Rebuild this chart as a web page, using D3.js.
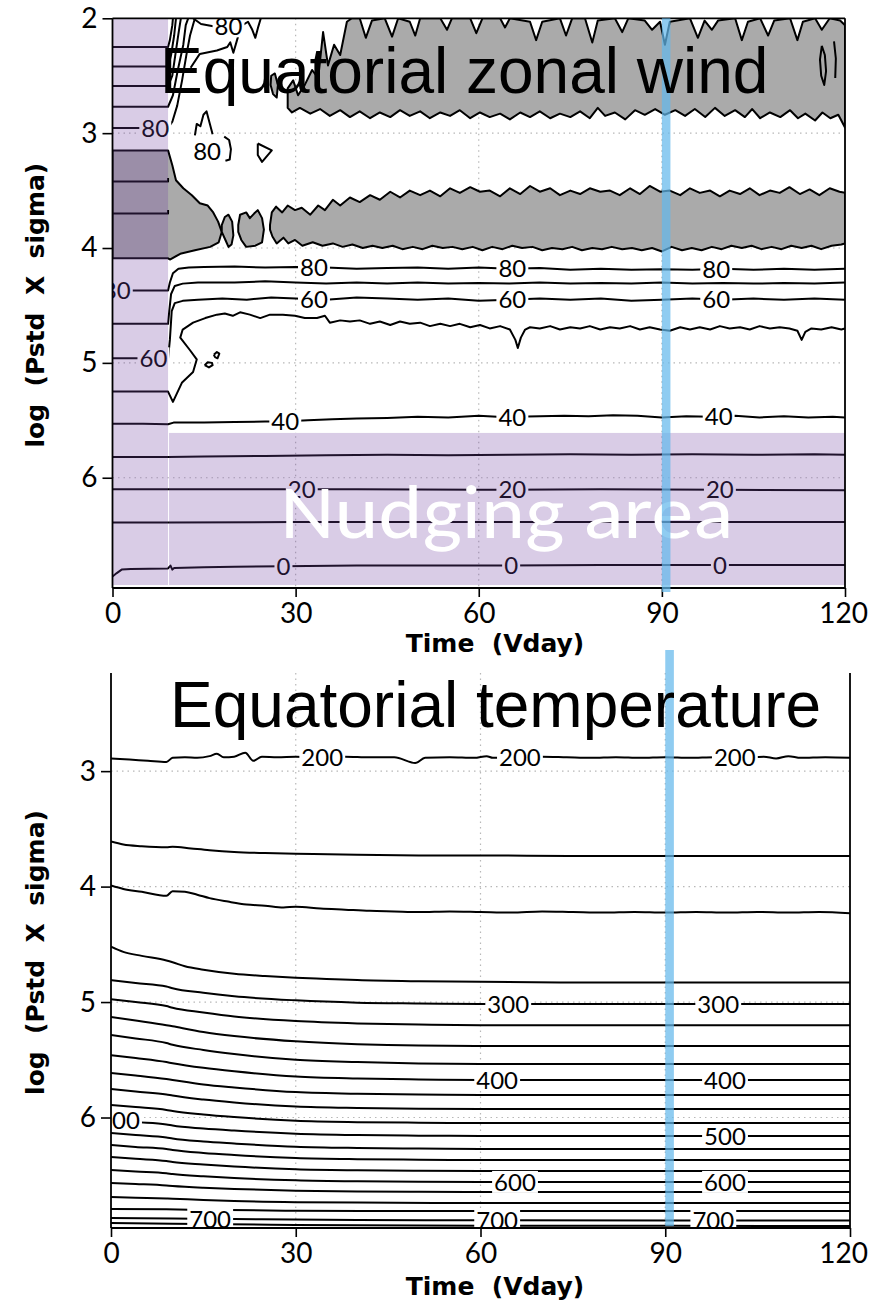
<!DOCTYPE html>
<html><head><meta charset="utf-8">
<script src="https://cdn.jsdelivr.net/npm/d3@7"></script>
<style>body{margin:0;background:#fff}svg{display:block}</style>
</head><body>
<svg id="c" width="869" height="1305"></svg>
<script>
// ---------------- DATA ----------------
const timeTicks = [0, 30, 60, 90, 120];
const windLevelTicks = [2, 3, 4, 5, 6];
const tempLevelTicks = [3, 4, 5, 6];
const timeGrid = [30, 60, 90];
const windLevelGrid = [3, 4, 5, 6];
const tempLevelGrid = [3, 4, 5, 6];
const nudgeStripEnd = 9.1;          // day
const nudgeAreaTop = 5.61;          // level
const markerDays = [90, 91.4];

// Zonal wind: shaded regions
const windUpperShadeTop = [[28.7,2.61],[29.6,2.54],[30.4,2.67],[31.5,2.58],[32.7,2.45],[33.7,2.52],[34.5,2.12],[35.3,2.41],[36.3,2.23],[37.3,2.32],[38.4,2.03],[39.2,2.0],[40.5,2.0],[41.5,2.17],[42.5,2.02],[44.6,2.0],[45.8,2.16],[46.8,2.0],[48.7,2.03],[49.6,2.15],[50.4,2.0],[53.7,2.0],[54.8,2.1],[55.6,2.0],[58.6,2.0],[59.6,2.13],[60.6,2.0],[63.5,2.0],[64.3,2.08],[65.1,2.0],[68.4,2.03],[69.4,2.19],[70.4,2.03],[73.3,2.0],[74.3,2.15],[75.3,2.0],[77.4,2.0],[78.6,2.21],[79.5,2.02],[82.3,2.0],[83.5,2.12],[84.5,2.0],[87.2,2.02],[88.4,2.1],[89.7,2.03],[90.5,2.23],[91.3,2.03],[94.6,2.0],[95.9,2.17],[97.0,2.02],[98.2,2.1],[99.2,2.02],[102.0,2.0],[103.1,2.19],[104.1,2.03],[106.1,2.0],[107.4,2.15],[108.4,2.02],[111.0,2.0],[112.2,2.19],[113.1,2.03],[115.1,2.0],[116.2,2.1],[117.5,2.0],[119.2,2.02],[120,2.06]];
const windUpperShadeBottom = [[28.7,2.78],[29.4,2.82],[30.7,2.78],[32.4,2.83],[34.0,2.79],[35.6,2.85],[37.3,2.80],[38.9,2.86],[40.5,2.81],[42.2,2.87],[43.8,2.82],[45.5,2.86],[47.1,2.80],[48.7,2.85],[50.4,2.81],[52.0,2.87],[53.7,2.82],[55.3,2.85],[56.9,2.80],[58.6,2.87],[60.2,2.82],[61.8,2.86],[63.5,2.83],[65.1,2.88],[66.8,2.82],[68.4,2.86],[70.0,2.81],[71.7,2.87],[73.3,2.83],[75.0,2.86],[76.6,2.81],[78.2,2.87],[79.5,2.78],[80.7,2.85],[82.3,2.82],[84.0,2.88],[85.6,2.80],[87.2,2.84],[88.9,2.79],[90.5,2.84],[92.2,2.80],[93.8,2.85],[95.4,2.79],[97.1,2.86],[98.7,2.78],[100.3,2.85],[102.0,2.80],[103.6,2.86],[104.8,2.79],[106.1,2.87],[107.7,2.82],[109.4,2.86],[111.0,2.80],[112.3,2.87],[113.5,2.83],[115.1,2.89],[116.3,2.82],[117.6,2.87],[118.9,2.84],[120,2.95]];
const windLeftShadeTop = [[0,3.15],[9.1,3.15],[9.8,3.28],[10.4,3.41],[11.6,3.48],[13.0,3.54],[14.3,3.61],[15.6,3.63],[16.5,3.69],[17.3,3.77],[17.9,3.86]];
const windLeftShadeBottom = [[0,4.09],[9.1,4.09],[9.4,4.10],[11.1,4.05],[13.5,4.02],[16.0,3.99],[17.4,3.95],[17.9,3.86]];
const windBlob1 = [[17.9,3.80],[18.4,3.73],[19.0,3.71],[19.6,3.77],[19.8,3.89],[19.5,3.97],[19.0,3.99],[18.5,3.93],[17.9,3.86]];
const windBlob2 = [[20.6,3.80],[20.9,3.71],[21.9,3.69],[22.5,3.74],[23.2,3.70],[23.8,3.67],[24.5,3.74],[24.8,3.84],[24.5,3.95],[23.4,3.98],[21.9,3.99],[21.1,3.93],[20.6,3.86]];
const windLowerShadeTop = [[25.8,3.80],[26.1,3.69],[26.8,3.64],[27.8,3.69],[28.7,3.63],[29.9,3.67],[31.0,3.65],[32.4,3.71],[33.7,3.63],[34.8,3.67],[36.1,3.58],[37.3,3.63],[38.9,3.56],[40.5,3.60],[42.2,3.54],[43.8,3.58],[45.5,3.51],[47.1,3.56],[48.7,3.50],[50.4,3.54],[52.0,3.50],[53.7,3.55],[55.3,3.48],[56.9,3.52],[58.6,3.47],[60.2,3.51],[61.8,3.50],[63.5,3.55],[65.1,3.48],[66.8,3.53],[68.4,3.46],[70.0,3.51],[71.7,3.48],[73.3,3.54],[75.0,3.50],[76.6,3.53],[78.2,3.48],[79.9,3.51],[81.5,3.50],[83.1,3.54],[84.8,3.48],[86.4,3.53],[88.0,3.46],[89.7,3.51],[91.3,3.50],[93.0,3.54],[94.6,3.48],[96.2,3.52],[97.9,3.50],[99.5,3.55],[101.1,3.50],[102.8,3.53],[104.4,3.48],[106.0,3.54],[107.7,3.50],[109.3,3.52],[110.9,3.47],[112.6,3.53],[114.2,3.49],[115.8,3.54],[117.5,3.48],[119.1,3.51],[120,3.52]];
const windLowerShadeBottom = [[25.8,3.84],[26.2,3.90],[26.9,3.96],[28.0,3.91],[28.8,3.96],[29.9,3.93],[31.1,3.98],[32.8,3.95],[34.4,3.98],[36.1,3.96],[37.7,3.99],[39.3,3.97],[41.0,4.00],[42.6,3.98],[44.2,4.00],[45.9,3.98],[47.5,4.01],[49.2,3.99],[50.8,4.01],[52.4,3.98],[54.1,4.00],[55.7,3.99],[57.3,4.01],[59.0,3.99],[60.6,4.02],[62.2,3.99],[63.9,4.01],[65.5,3.98],[67.1,4.00],[68.8,3.99],[70.4,4.02],[72.0,4.00],[73.7,4.01],[75.3,3.99],[76.9,4.02],[78.6,4.00],[80.2,4.01],[81.8,3.99],[83.5,4.01],[85.1,4.00],[86.7,4.02],[88.4,4.00],[90.0,4.03],[91.6,3.99],[93.3,4.02],[94.9,4.00],[96.5,4.02],[98.2,3.99],[99.8,4.01],[101.4,3.98],[103.1,4.00],[104.7,3.98],[106.3,4.01],[108.0,3.99],[109.6,4.01],[111.2,3.98],[112.9,4.00],[114.5,3.98],[116.1,4.01],[117.8,3.98],[119.4,3.97],[120,3.96]];
const windSmallShade = [[26.0,2.50],[26.6,2.48],[27.1,2.58],[26.9,2.69],[26.3,2.66],[25.9,2.58],[26.0,2.50]];

// Zonal wind: contour lines
const windFan1 = [[0,2.25],[9.1,2.25],[9.4,2.19],[9.8,2.06],[9.9,2.0]];
const windFan2 = [[0,2.42],[9.1,2.42],[9.6,2.32],[10.1,2.15],[10.4,2.0]];
const windFan3 = [[0,2.59],[9.1,2.59],[9.8,2.50],[10.4,2.28],[10.9,2.10],[11.2,2.0]];
const windFan4 = [[0,2.77],[9.1,2.77],[9.9,2.67],[10.7,2.45],[11.6,2.23],[12.0,2.06],[12.4,2.0]];
const windFan5 = [[0,2.955],[9.1,2.955],[9.8,2.90],[10.6,2.76],[11.4,2.54],[12.1,2.32],[12.7,2.15],[13.5,2.0]];
const windTopA = [[13.2,2.0],[14.5,2.05],[16.5,2.07],[19.0,2.07],[21.3,2.06],[22.2,2.03],[22.9,2.10],[23.4,2.17],[23.9,2.07],[24.3,2.0]];
const windTopB = [[12.8,2.43],[14.3,2.31],[17.1,2.28],[18.8,2.25],[19.3,2.21],[19.8,2.30],[20.4,2.19],[20.9,2.10],[21.4,2.0]];
const windTopC = [[13.5,3.02],[13.8,2.92],[14.4,2.94],[14.9,2.84],[15.4,2.81],[15.9,2.91],[16.4,3.01]];
const windTopD = [[18.3,3.03],[19.1,3.06],[19.4,3.14],[19.2,3.23],[18.5,3.24]];
const windTriangle = [[23.8,3.09],[26.1,3.15],[24.5,3.25],[23.8,3.19],[23.8,3.09]];
const windIsland1 = [[116.2,2.24],[116.7,2.32],[116.9,2.46],[116.6,2.58],[116.1,2.50],[115.9,2.36],[116.2,2.24]];
const windIsland2 = [[118.2,2.20],[118.5,2.35],[118.4,2.52]];
const windStripIn1 = [[0,3.42],[9.1,3.42],[9.1,3.39]];
const windStripIn2 = [[0,3.70],[9.1,3.70],[9.1,3.67]];
const wind80 = [[0,4.37],[9.1,4.37],[9.4,4.30],[9.9,4.22],[10.8,4.18],[12.5,4.17],[15,4.165],[20,4.16],[25,4.17],[30,4.165],[35,4.17],[40,4.18],[45,4.175],[50,4.17],[55,4.18],[60,4.17],[65,4.18],[70,4.175],[75,4.19],[80,4.18],[85,4.19],[90,4.185],[95,4.19],[100,4.18],[105,4.19],[110,4.18],[115,4.19],[120,4.18]];
const wind70 = [[0,4.66],[9.1,4.66],[9.3,4.55],[9.6,4.40],[10.2,4.33],[11.5,4.31],[14,4.30],[20,4.30],[25,4.29],[30,4.30],[35,4.31],[40,4.30],[45,4.31],[50,4.30],[55,4.31],[60,4.305],[65,4.31],[70,4.30],[75,4.31],[80,4.305],[85,4.31],[90,4.30],[95,4.31],[100,4.305],[105,4.31],[110,4.305],[115,4.31],[120,4.30]];
const wind60 = [[0,4.96],[9.1,4.96],[9.4,4.80],[9.7,4.55],[10.2,4.48],[11.5,4.46],[14,4.45],[18,4.44],[22,4.45],[26,4.43],[30,4.44],[35,4.45],[40,4.43],[45,4.44],[50,4.45],[55,4.44],[60,4.46],[65,4.45],[70,4.44],[75,4.45],[80,4.44],[85,4.46],[90,4.45],[95,4.44],[100,4.45],[105,4.44],[110,4.45],[115,4.44],[120,4.45]];
const wind50 = [[0,5.25],[4,5.25],[9.1,5.25],[9.9,5.34],[11.4,5.17],[13.2,5.08],[13.8,4.97],[12.7,4.89],[11.1,4.78],[11.5,4.71],[13.2,4.65],[15.2,4.61],[17.1,4.58],[18.4,4.57],[19.7,4.59],[20.9,4.56],[22.5,4.58],[24.2,4.61],[25.8,4.58],[27.9,4.58],[29.9,4.59],[31.5,4.61],[33.5,4.61],[34.8,4.59],[35.6,4.65],[37.3,4.63],[38.9,4.64],[40.5,4.63],[42.2,4.66],[43.8,4.64],[45.5,4.67],[47.1,4.64],[48.7,4.66],[50.4,4.65],[52.0,4.68],[53.7,4.66],[55.3,4.68],[56.9,4.66],[58.6,4.69],[60.2,4.67],[61.8,4.70],[63.5,4.68],[65.1,4.71],[66.0,4.80],[66.4,4.87],[66.9,4.78],[67.6,4.71],[68.4,4.69],[70.0,4.70],[71.7,4.68],[73.3,4.71],[75.0,4.69],[76.6,4.70],[78.2,4.68],[79.9,4.71],[81.5,4.69],[83.1,4.70],[84.8,4.68],[86.4,4.71],[88.0,4.69],[89.7,4.71],[91.3,4.72],[93.0,4.69],[94.6,4.71],[96.2,4.69],[97.9,4.71],[99.5,4.68],[101.1,4.70],[102.8,4.69],[104.4,4.71],[106.0,4.68],[107.7,4.70],[109.3,4.69],[110.9,4.70],[112.2,4.72],[112.9,4.80],[113.5,4.73],[114.5,4.70],[116.1,4.71],[117.8,4.69],[119.4,4.71],[120,4.70]];
const wind50BlobA = [[15.1,5.02],[15.6,4.995],[16.3,5.0],[16.4,5.02],[15.8,5.04],[15.1,5.02]];
const wind50BlobB = [[16.6,4.93],[17.1,4.905],[17.5,4.92],[17.2,4.96],[16.8,4.95],[16.6,4.93]];
const wind40 = [[0,5.53],[5,5.53],[9.1,5.535],[10,5.52],[15,5.52],[20,5.515],[25,5.51],[28,5.51],[32,5.50],[36,5.49],[40,5.485],[45,5.48],[50,5.47],[55,5.475],[60,5.46],[63,5.47],[66,5.47],[70,5.465],[74,5.46],[78,5.465],[82,5.455],[86,5.46],[90,5.475],[94,5.465],[98,5.47],[102,5.46],[106,5.475],[110,5.465],[114,5.475],[118,5.47],[120,5.475]];
const wind30 = [[0,5.82],[9.1,5.82],[15,5.815],[25,5.81],[35,5.805],[45,5.80],[55,5.805],[65,5.80],[75,5.795],[85,5.80],[95,5.795],[105,5.80],[115,5.795],[120,5.80]];
const wind20 = [[0,6.10],[9.1,6.10],[20,6.10],[40,6.10],[60,6.105],[80,6.10],[100,6.105],[120,6.11]];
const wind10 = [[0,6.39],[9.1,6.39],[30,6.385],[60,6.385],[90,6.385],[120,6.385]];
const wind0 = [[0,6.86],[0.7,6.83],[1.5,6.80],[3,6.795],[9.1,6.79],[9.5,6.765],[9.8,6.80],[10.1,6.785],[15,6.78],[20,6.775],[28,6.77],[40,6.765],[60,6.765],[80,6.76],[100,6.76],[120,6.76]];

// Temperature contour lines (K)
const temp200 = [[0,2.89],[3,2.90],[6,2.91],[9,2.92],[10,2.885],[12,2.88],[14,2.885],[16,2.87],[17.2,2.85],[18.3,2.88],[20,2.875],[21.8,2.84],[23.1,2.91],[24.5,2.875],[27,2.88],[30,2.875],[34,2.88],[38,2.875],[42,2.88],[46,2.88],[49.4,2.93],[51,2.885],[55,2.88],[59,2.885],[61,2.87],[62,2.885],[66,2.88],[70,2.875],[74,2.88],[78,2.885],[82,2.88],[86,2.885],[90,2.88],[94,2.885],[98,2.88],[102,2.885],[106,2.875],[108,2.89],[110,2.87],[112,2.885],[116,2.88],[120,2.885]];
const temp225 = [[0,3.61],[2,3.635],[5,3.65],[9,3.66],[10,3.655],[13,3.67],[16,3.685],[20,3.70],[25,3.71],[30,3.715],[40,3.725],[50,3.73],[60,3.73],[75,3.735],[90,3.735],[105,3.735],[120,3.735]];
const temp250 = [[0,3.99],[2,4.02],[5,4.045],[9,4.08],[10,4.04],[12,4.045],[14,4.07],[16,4.10],[19,4.13],[22,4.155],[25,4.165],[28,4.18],[30,4.175],[34,4.19],[38,4.20],[42,4.21],[46,4.215],[50,4.22],[55,4.215],[60,4.22],[65,4.225],[70,4.215],[75,4.22],[80,4.225],[85,4.22],[90,4.225],[95,4.22],[100,4.225],[105,4.22],[110,4.225],[115,4.22],[120,4.23]];
const temp275 = [[0,4.52],[2,4.565],[5,4.60],[9,4.64],[10,4.655],[12,4.69],[15,4.72],[20,4.755],[25,4.775],[30,4.79],[35,4.80],[40,4.81],[50,4.82],[60,4.825],[75,4.83],[90,4.83],[105,4.83],[120,4.83]];
const temp300 = [[0,4.81],[4,4.835],[9,4.865],[10,4.88],[15,4.92],[20,4.95],[30,4.985],[40,5.005],[50,5.012],[60,5.017],[90,5.017],[120,5.017]];
const temp325 = [[0,4.975],[4,5.0],[9,5.035],[10,5.05],[15,5.09],[20,5.125],[30,5.165],[40,5.185],[50,5.195],[60,5.20],[90,5.20],[120,5.20]];
const temp350 = [[0,5.13],[4,5.16],[9,5.20],[10,5.21],[15,5.26],[20,5.295],[30,5.34],[40,5.365],[50,5.377],[60,5.38],[90,5.38],[120,5.38]];
const temp375 = [[0,5.285],[4,5.315],[9,5.355],[10,5.37],[15,5.415],[20,5.45],[30,5.50],[40,5.52],[50,5.532],[60,5.537],[90,5.537],[120,5.537]];
const temp400 = [[0,5.46],[4,5.485],[9,5.52],[10,5.53],[15,5.57],[20,5.60],[30,5.645],[40,5.662],[50,5.67],[60,5.675],[90,5.675],[120,5.675]];
const temp425 = [[0,5.615],[4,5.636],[9,5.667],[10,5.675],[15,5.714],[20,5.74],[30,5.78],[40,5.795],[50,5.80],[60,5.805],[90,5.805],[120,5.805]];
const temp450 = [[0,5.753],[4,5.775],[9,5.80],[10,5.81],[15,5.845],[20,5.87],[30,5.905],[40,5.918],[50,5.924],[60,5.926],[90,5.926],[120,5.926]];
const temp475 = [[0,5.892],[4,5.91],[9,5.935],[10,5.944],[15,5.974],[20,5.996],[30,6.028],[40,6.04],[50,6.045],[60,6.048],[90,6.048],[120,6.048]];
const temp500 = [[0,6.022],[4,6.04],[9,6.06],[10,6.07],[15,6.095],[20,6.113],[30,6.14],[40,6.152],[50,6.157],[60,6.16],[90,6.16],[120,6.16]];
const temp525 = [[0,6.134],[4,6.152],[9,6.173],[10,6.182],[15,6.208],[20,6.225],[30,6.253],[40,6.264],[50,6.269],[60,6.273],[90,6.273],[120,6.273]];
const temp550 = [[0,6.238],[4,6.255],[9,6.273],[10,6.281],[15,6.307],[20,6.325],[30,6.351],[40,6.361],[50,6.365],[60,6.368],[90,6.368],[120,6.368]];
const temp575 = [[0,6.342],[4,6.358],[9,6.377],[10,6.385],[15,6.407],[20,6.424],[30,6.448],[40,6.457],[50,6.461],[60,6.463],[90,6.463],[120,6.463]];
const temp600 = [[0,6.455],[4,6.468],[9,6.483],[10,6.489],[15,6.509],[20,6.524],[30,6.544],[40,6.553],[50,6.557],[60,6.558],[90,6.558],[120,6.558]];
const temp625 = [[0,6.567],[4,6.576],[9,6.589],[10,6.593],[15,6.608],[20,6.619],[30,6.634],[40,6.64],[50,6.643],[60,6.645],[90,6.645],[120,6.645]];
const temp650 = [[0,6.688],[4,6.694],[9,6.701],[10,6.703],[15,6.714],[20,6.723],[30,6.733],[40,6.737],[60,6.74],[90,6.74],[120,6.74]];
const temp675 = [[0,6.792],[9,6.795],[15,6.80],[30,6.807],[60,6.81],[120,6.81]];
const temp700 = [[0,6.87],[10,6.875],[20,6.88],[40,6.887],[60,6.89],[120,6.893]];
const temp725 = [[0,6.913],[10,6.92],[30,6.93],[60,6.937],[120,6.939]];

// ---------------- DERIVED TABLES ----------------
const windShadePolys = [
  windUpperShadeTop.concat(windUpperShadeBottom.slice().reverse()),
  windLeftShadeTop.concat(windLeftShadeBottom.slice().reverse()),
  windBlob1, windBlob2,
  windLowerShadeTop.concat(windLowerShadeBottom.slice().reverse()),
  windSmallShade
];
const windLines = [windFan1, windFan2, windFan3, windFan4, windFan5, windTopA, windTopB, windTopC, windTopD,
  windTriangle, windIsland1, windIsland2, windStripIn1, windStripIn2, wind80, wind70, wind60, wind50,
  wind50BlobA, wind50BlobB, wind40, wind30, wind20, wind10, wind0];
const windLabels = [
  {text:"80", line:windFan5, t:7.0}, {text:"80", line:wind80, t:0.7}, {text:"60", line:wind60, t:6.7},
  {text:"80", line:windTopA, t:19.0}, {text:"80", t:15.5, v:3.16},
  {text:"80", line:wind80, t:33}, {text:"80", line:wind80, t:65.5}, {text:"80", line:wind80, t:98.9},
  {text:"60", line:wind60, t:33}, {text:"60", line:wind60, t:65.5}, {text:"60", line:wind60, t:98.9},
  {text:"40", line:wind40, t:28.3}, {text:"40", line:wind40, t:65.5}, {text:"40", line:wind40, t:99.3},
  {text:"20", line:wind20, t:31.0}, {text:"20", line:wind20, t:65.5}, {text:"20", line:wind20, t:99.5},
  {text:"0", line:wind0, t:28.0}, {text:"0", line:wind0, t:65.3}, {text:"0", line:wind0, t:99.5}
];
const tempLines = [temp200, temp225, temp250, temp275, temp300, temp325, temp350, temp375, temp400, temp425,
  temp450, temp475, temp500, temp525, temp550, temp575, temp600, temp625, temp650, temp675, temp700, temp725];
const tempLabels = [
  {text:"200", line:temp200, t:34.3}, {text:"200", line:temp200, t:66.4}, {text:"200", line:temp200, t:101.3},
  {text:"300", line:temp300, t:64.5}, {text:"300", line:temp300, t:98.6},
  {text:"400", line:temp400, t:62.7}, {text:"400", line:temp400, t:99.7},
  {text:"500", line:temp500, t:1.3}, {text:"500", line:temp500, t:99.7},
  {text:"600", line:temp600, t:65.6}, {text:"600", line:temp600, t:99.7},
  {text:"700", line:temp700, t:16.1}, {text:"700", line:temp700, t:62.7}, {text:"700", line:temp700, t:97.8}
];

// ---------------- DRAWING ----------------
const svg = d3.select("#c");
const PAGE_W = 869;
const xT = d3.scaleLinear().domain([0,120]).range([112.5,845]);
const yT = d3.scaleLinear().domain([2,6.96]).range([18.3,588]);
const xB = d3.scaleLinear().domain([0,120]).range([111,850]);
const yB = d3.scaleLinear().domain([2.15,6.957]).range([673,1228]);
const LW = 2.0;

const defs = svg.append("defs");
defs.append("clipPath").attr("id","clipT").append("rect")
  .attr("x",xT(0)).attr("y",yT(2)).attr("width",xT(120)-xT(0)).attr("height",yT(6.96)-yT(2));
defs.append("clipPath").attr("id","clipB").append("rect")
  .attr("x",xB(0)).attr("y",yB(2.15)).attr("width",xB(120)-xB(0)).attr("height",yB(6.957)-yB(2.15));

function levelAt(line, t){
  for(let i=0;i<line.length-1;i++){
    const a=line[i], b=line[i+1];
    if((t>=a[0]&&t<=b[0])||(t<=a[0]&&t>=b[0])){
      if(b[0]===a[0]) return a[1];
      return a[1]+(b[1]-a[1])*(t-a[0])/(b[0]-a[0]);
    }
  }
  return line[line.length-1][1];
}

function grid(g, xs, ys, xg, yg){
  const y0=ys.range()[0], y1=ys.range()[1], x0=xs.range()[0], x1=xs.range()[1];
  g.selectAll("line.gx").data(xg).join("line").attr("class","gx")
    .attr("x1",d=>xs(d)).attr("x2",d=>xs(d)).attr("y1",y0).attr("y2",y1);
  g.selectAll("line.gy").data(yg).join("line").attr("class","gy")
    .attr("y1",d=>ys(d)).attr("y2",d=>ys(d)).attr("x1",x0).attr("x2",x1);
  g.selectAll("line").attr("stroke","#b8b8b8").attr("stroke-width",1.2).attr("stroke-dasharray","1.5,4");
}

function labels(g, specs, xs, ys){
  specs.forEach(s=>{
    const v = s.line ? levelAt(s.line, s.t) : s.v;
    const cx = xs(s.t), cy = ys(v);
    const txt = g.append("text").attr("x",cx).attr("y",cy).attr("dy","0.36em")
      .attr("text-anchor","middle").attr("font-family","Lato, 'DejaVu Sans', sans-serif")
      .attr("font-size",24).attr("fill","#000").text(s.text);
    const bb = txt.node().getBBox();
    g.insert("rect", ()=>txt.node()).attr("x",bb.x-2).attr("y",cy-11).attr("width",bb.width+4).attr("height",22).attr("fill","#fff");
  });
}

function axes(g, xs, ys, yTicks, xLabelBaseline, withTop){
  const x0=xs.range()[0], x1=xs.range()[1], y0=ys.range()[0], y1=ys.range()[1];
  const ax = g.append("g").attr("transform",`translate(${x0},0)`)
    .call(d3.axisLeft(ys).tickValues(yTicks).tickSize(10).tickSizeOuter(0).tickPadding(5).tickFormat(d3.format("d")));
  const bx = g.append("g").attr("transform",`translate(0,${y1})`)
    .call(d3.axisBottom(xs).tickValues(timeTicks).tickSize(9).tickSizeOuter(0).tickPadding(6).tickFormat(d3.format("d")));
  [ax,bx].forEach(a=>{
    a.select(".domain").remove();
    a.selectAll("line").attr("stroke","#000").attr("stroke-width",1.6);
    a.selectAll("text").attr("font-family","Lato, 'DejaVu Sans', sans-serif").attr("font-size",28).attr("fill","#000");
  });
  // keep the last tick label inside the page
  bx.selectAll("text").each(function(){
    const bb = this.getBBox();
    const tr = this.parentNode.transform.baseVal.consolidate().matrix.e;
    const right = tr + bb.x + bb.width;
    if(right > PAGE_W - 1) d3.select(this).attr("dx", (PAGE_W - 1 - right) + "px");
  });
  const fr = g.append("g").attr("stroke","#000").attr("stroke-width",1.8);
  fr.append("line").attr("x1",x0).attr("x2",x0).attr("y1",y0).attr("y2",y1);
  fr.append("line").attr("x1",x1).attr("x2",x1).attr("y1",y0).attr("y2",y1);
  fr.append("line").attr("x1",x0).attr("x2",x1).attr("y1",y1).attr("y2",y1);
  if(withTop) fr.append("line").attr("x1",x0).attr("x2",x1).attr("y1",y0).attr("y2",y0);
  g.append("text").attr("x",495).attr("y",xLabelBaseline).attr("text-anchor","middle")
    .attr("font-family","'DejaVu Sans', sans-serif").attr("font-weight","bold").attr("font-size",25)
    .style("white-space","pre").text("Time  (Vday)");
  const cy = (y0+y1)/2 + 2;
  g.append("text").attr("transform",`translate(44,${cy}) rotate(-90)`).attr("text-anchor","middle")
    .attr("font-family","'DejaVu Sans', sans-serif").attr("font-weight","bold").attr("font-size",25)
    .style("white-space","pre").text("log  (Pstd  X  sigma)");
}

// ---- Top panel: zonal wind ----
const gT = svg.append("g");
const lineT = d3.line().x(d=>xT(d[0])).y(d=>yT(d[1]));
const plotT = gT.append("g").attr("clip-path","url(#clipT)");
grid(plotT.append("g"), xT, yT, timeGrid, windLevelGrid);
plotT.append("g").selectAll("path").data(windShadePolys).join("path")
  .attr("d",d=>lineT(d)+"Z").attr("fill","#aaaaaa").attr("stroke","#000").attr("stroke-width",LW).attr("stroke-linejoin","round");
plotT.append("g").selectAll("path").data(windLines).join("path")
  .attr("d",lineT).attr("fill","none").attr("stroke","#000").attr("stroke-width",LW).attr("stroke-linejoin","round");
labels(plotT.append("g"), windLabels, xT, yT);
plotT.append("rect").attr("x",xT(0)).attr("y",yT(2)).attr("width",xT(nudgeStripEnd)-xT(0)).attr("height",yT(6.934)-yT(2))
  .attr("fill","rgb(115,67,163)").attr("fill-opacity",0.27);
plotT.append("rect").attr("x",xT(nudgeStripEnd)+1).attr("y",yT(nudgeAreaTop)).attr("width",xT(120)-xT(nudgeStripEnd)-1).attr("height",yT(6.934)-yT(nudgeAreaTop))
  .attr("fill","rgb(115,67,163)").attr("fill-opacity",0.27);
gT.append("text").attr("x",xT(27.5)).attr("y",538).attr("font-family","Carlito, Lato, 'Open Sans', sans-serif")
  .attr("font-size",76).attr("fill","#fff").attr("textLength",453).attr("lengthAdjust","spacingAndGlyphs").text("Nudging area");
axes(gT, xT, yT, windLevelTicks, 652, true);
gT.append("rect").attr("x",xT(markerDays[0])).attr("y",yT(2)).attr("width",xT(markerDays[1])-xT(markerDays[0])).attr("height",yT(6.96)-yT(2)+4)
  .attr("fill","rgb(100,185,235)").attr("fill-opacity",0.72);
gT.append("text").attr("x",160).attr("y",93).attr("font-family","'Liberation Sans', Arial, sans-serif")
  .attr("font-size",64).attr("fill","#000").text("Equatorial zonal wind");

// ---- Bottom panel: temperature ----
const gB = svg.append("g");
const lineB = d3.line().x(d=>xB(d[0])).y(d=>yB(d[1])).curve(d3.curveMonotoneX);
const plotB = gB.append("g").attr("clip-path","url(#clipB)");
grid(plotB.append("g"), xB, yB, timeGrid, tempLevelGrid);
plotB.append("g").selectAll("path").data(tempLines).join("path")
  .attr("d",lineB).attr("fill","none").attr("stroke","#000").attr("stroke-width",LW);
labels(plotB.append("g"), tempLabels, xB, yB);
axes(gB, xB, yB, tempLevelTicks, 1295, false);
gB.append("rect").attr("x",xB(markerDays[0])).attr("y",yB(2.15)-23).attr("width",xB(markerDays[1])-xB(markerDays[0])).attr("height",yB(6.94)-yB(2.15)+23)
  .attr("fill","rgb(100,185,235)").attr("fill-opacity",0.72);
gB.append("text").attr("x",170).attr("y",727).attr("font-family","'Liberation Sans', Arial, sans-serif")
  .attr("font-size",64).attr("fill","#000").text("Equatorial temperature");
</script>
</body></html>
